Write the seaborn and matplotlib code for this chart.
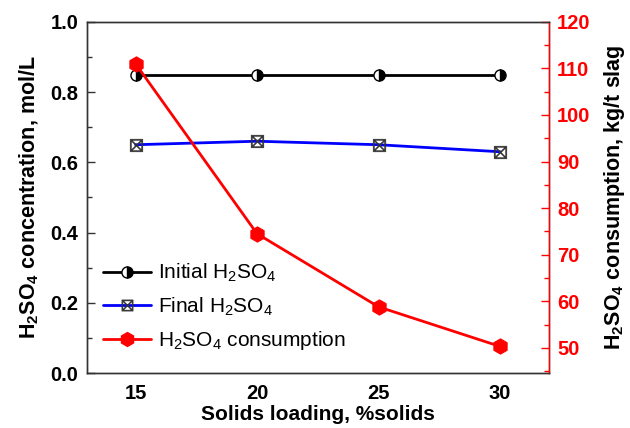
import matplotlib
matplotlib.use("Agg")
import matplotlib.pyplot as plt
import seaborn as sns
import pandas as pd
from matplotlib.ticker import MultipleLocator
from matplotlib.lines import Line2D

solids = [15, 20, 25, 30]
initial_h2so4 = [0.85, 0.85, 0.85, 0.85]
final_h2so4 = [0.65, 0.66, 0.65, 0.63]
consumption = [111.0, 74.5, 58.8, 50.3]

sns.set_style("white")
plt.rcParams["font.family"] = ["Liberation Sans", "DejaVu Sans"]
plt.rcParams["mathtext.default"] = "regular"
plt.rcParams["text.color"] = "black"
plt.rcParams["axes.labelcolor"] = "black"
plt.rcParams["xtick.color"] = "black"
plt.rcParams["ytick.color"] = "black"

df = pd.DataFrame({"solids": solids, "initial": initial_h2so4,
                   "final": final_h2so4, "cons": consumption})

fig = plt.figure(figsize=(6.3, 4.28), dpi=100)
ax = fig.add_axes([0.138, 0.1285, 0.733, 0.8205])
ax2 = ax.twinx()

sns.lineplot(data=df, x="solids", y="initial", ax=ax, color="black", lw=2,
             marker="o", markersize=8, fillstyle="right",
             markerfacecolor="black", markerfacecoloralt="white",
             markeredgecolor="black", markeredgewidth=1, zorder=3)
sns.lineplot(data=df, x="solids", y="final", ax=ax, color="#0000ff", lw=2,
             marker="$\\boxtimes$", markersize=9, markeredgewidth=0.5,
             markerfacecolor="#333333", markeredgecolor="#333333", zorder=3)
sns.lineplot(data=df, x="solids", y="cons", ax=ax2, color="#ff0000", lw=2,
             marker="h", markersize=11, markerfacecolor="#ff0000",
             markeredgecolor="#ff0000", zorder=3)

ax.set_xlim(13, 32)
ax.set_ylim(0, 1.0)
ax2.set_ylim(44.6, 120)
ax.xaxis.set_major_locator(MultipleLocator(5))
ax.xaxis.set_minor_locator(MultipleLocator(2.5))
ax.yaxis.set_major_locator(MultipleLocator(0.2))
ax.yaxis.set_minor_locator(MultipleLocator(0.1))
ax2.yaxis.set_major_locator(MultipleLocator(10))
ax2.yaxis.set_minor_locator(MultipleLocator(5))
ax.yaxis.set_major_formatter(matplotlib.ticker.FormatStrFormatter("%.1f"))

for a in (ax, ax2):
    for s in a.spines.values():
        s.set_linewidth(1.0)
        s.set_color("#333333")
ax2.spines["right"].set_color("#ff0000")

ax.tick_params(axis="both", which="both", direction="in", top=False,
               right=False, labelsize=14.5, color="#333333", labelcolor="black")
ax.tick_params(which="major", length=6, width=1)
ax.tick_params(which="minor", length=3.5, width=1)
ax.tick_params(axis="x", pad=8)
ax.tick_params(axis="y", pad=6)
ax2.tick_params(axis="y", which="both", direction="in", colors="#ff0000",
                labelsize=14.5, pad=6)
ax2.tick_params(which="major", length=6, width=1)
ax2.tick_params(which="minor", length=3.5, width=1)
for lbl in ax.get_xticklabels() + ax.get_yticklabels():
    lbl.set_fontweight("bold")
for lbl in ax2.get_yticklabels():
    lbl.set_fontweight("bold")

ax.set_xlabel("Solids loading, %solids", fontsize=15, fontweight="bold", labelpad=1)
ax.set_ylabel("H$_2$SO$_4$ concentration, mol/L", fontsize=15.5, fontweight="bold", labelpad=7)
ax2.set_ylabel("H$_2$SO$_4$ consumption, kg/t slag", fontsize=15.5, fontweight="bold",
               labelpad=8, color="black")

handles = [
    Line2D([], [], color="black", lw=2, marker="o", markersize=8, fillstyle="right",
           markerfacecolor="black", markerfacecoloralt="white", markeredgecolor="black"),
    Line2D([], [], color="#0000ff", lw=2, marker="$\\boxtimes$", markersize=8,
           markeredgewidth=0.5, markerfacecolor="#333333", markeredgecolor="#333333"),
    Line2D([], [], color="#ff0000", lw=2, marker="h", markersize=10,
           markerfacecolor="#ff0000", markeredgecolor="#ff0000"),
]
labels = ["Initial H$_2$SO$_4$", "Final H$_2$SO$_4$", "H$_2$SO$_4$ consumption"]
if ax.get_legend():
    ax.get_legend().remove()
if ax2.get_legend():
    ax2.get_legend().remove()
ax2.legend(handles, labels, loc="upper left", bbox_to_anchor=(-0.005, 0.37),
           frameon=False, fontsize=15, handlelength=2.3, labelspacing=0.55,
           handletextpad=0.3, labelcolor="black")

fig.savefig("out.png", dpi=100)
